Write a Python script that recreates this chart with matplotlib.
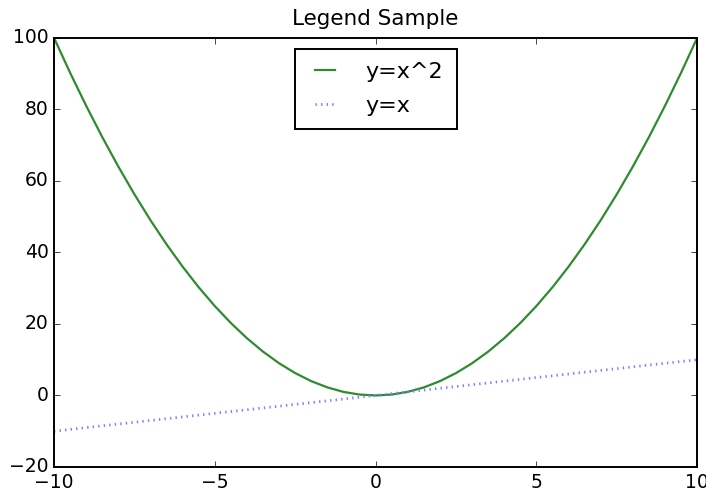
import matplotlib
matplotlib.use('Agg')
import matplotlib.pyplot as plt

# 数据（从图中读取的采样点）
x_vals = [-10, -9.5, -9, -8.5, -8, -7.5, -7, -6.5, -6, -5.5, -5, -4.5, -4, -3.5, -3,
          -2.5, -2, -1.5, -1, -0.5, 0, 0.5, 1, 1.5, 2, 2.5, 3, 3.5, 4, 4.5, 5,
          5.5, 6, 6.5, 7, 7.5, 8, 8.5, 9, 9.5, 10]
y_square = [100, 90.25, 81, 72.25, 64, 56.25, 49, 42.25, 36, 30.25, 25, 20.25, 16, 12.25, 9,
            6.25, 4, 2.25, 1, 0.25, 0, 0.25, 1, 2.25, 4, 6.25, 9, 12.25, 16, 20.25, 25,
            30.25, 36, 42.25, 49, 56.25, 64, 72.25, 81, 90.25, 100]
x_linear = [-10, 10]
y_linear = [-10, 10]

plt.style.use('classic')
plt.rcParams['font.family'] = ['DejaVu Sans']
plt.rcParams['axes.linewidth'] = 1.4

fig = plt.figure(figsize=(7.06, 4.95), dpi=100, facecolor='white')
ax = fig.add_axes([0.0765, 0.0566, 0.911, 0.867])

ax.plot(x_vals, y_square, color='#2e8b2e', linewidth=1.6, label='y=x^2')
ax.plot(x_linear, y_linear, color='#7f7fff', linestyle=':', linewidth=2, label='y=x')

ax.set_xlim(-10, 10)
ax.set_ylim(-20, 100)
ax.set_xticks([-10, -5, 0, 5, 10])
ax.set_yticks([-20, 0, 20, 40, 60, 80, 100])
ax.tick_params(labelsize=13.5)
ax.set_title('Legend Sample', fontsize=15.5, pad=9)
leg = ax.legend(loc='upper center', fontsize=16, fancybox=False,
                handlelength=1.5, handletextpad=1.1, borderpad=0.6,
                labelspacing=0.6, borderaxespad=0.5)
leg.get_frame().set_linewidth(1.4)

fig.savefig('out.png', dpi=100, facecolor='white')
